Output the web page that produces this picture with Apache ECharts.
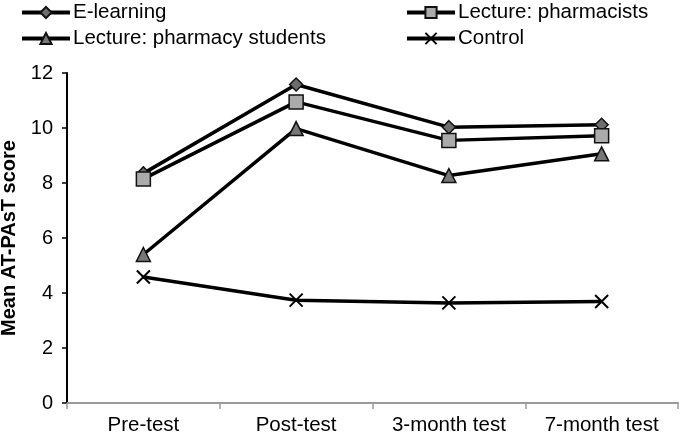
<!DOCTYPE html>
<html><head><meta charset="utf-8">
<script src="https://cdn.jsdelivr.net/npm/echarts@6/dist/echarts.min.js"></script>
<style>html,body{margin:0;padding:0;background:#fff}#c{width:680px;height:438px}</style>
</head><body><div id="c"></div>
<script>
const categories = ['Pre-test', 'Post-test', '3-month test', '7-month test'];
const eLearning = [8.35, 11.58, 10.03, 10.12];
const lecturePharmacists = [8.15, 10.95, 9.55, 9.72];
const lectureStudents = [5.4, 9.98, 8.27, 9.06];
const control = [4.58, 3.74, 3.64, 3.69];
const yTicks = [0, 2, 4, 6, 8, 10, 12];
const seriesNames = ['E-learning', 'Lecture: pharmacists', 'Lecture: pharmacy students', 'Control'];

const font = 'Liberation Sans, Arial, sans-serif';
const xPath = 'path://M0,0 L10,10 M10,0 L0,10';

function mk(name, data, symbol, size, fill, extra) {
  return Object.assign({
    name: name, type: 'line', data: data, symbol: symbol, symbolSize: size,
    lineStyle: { color: '#000', width: 3.5 },
    itemStyle: { color: fill, borderColor: '#111', borderWidth: 1.5 },
    emphasis: { disabled: true }, z: 3
  }, extra || {});
}

const legendBase = {
  itemWidth: 48, itemHeight: 14, itemGap: 4,
  lineStyle: { width: 4, color: '#000' },
  textStyle: { fontFamily: font, fontSize: 20.5, color: '#000', padding: [0, 0, 0, -2] },
  padding: 0, selectedMode: false
};

const chart = echarts.init(document.getElementById('c'), null, { renderer: 'canvas' });
chart.setOption({
  animation: false,
  backgroundColor: '#fff',
  grid: { left: 67, right: 2, top: 73, bottom: 35, containLabel: false, outerBoundsMode: 'none' },
  legend: [
    Object.assign({}, legendBase, { data: [seriesNames[0]], left: 20, top: 2 }),
    Object.assign({}, legendBase, { data: [seriesNames[1]], left: 405, top: 2 }),
    Object.assign({}, legendBase, { data: [seriesNames[2]], left: 20, top: 28 }),
    Object.assign({}, legendBase, { data: [seriesNames[3]], left: 405, top: 28 })
  ],
  xAxis: {
    type: 'category', data: categories, boundaryGap: true,
    axisLine: { lineStyle: { color: '#9a9a9a', width: 2 } },
    axisTick: { show: true, length: 6, lineStyle: { color: '#9a9a9a', width: 1.5 } },
    axisLabel: { fontFamily: font, fontSize: 20.5, color: '#000', margin: 12 }
  },
  yAxis: {
    type: 'value', min: 0, max: 12, interval: 2,
    name: 'Mean AT-PAsT score', nameLocation: 'middle', nameGap: 48,
    nameTextStyle: { fontFamily: font, fontSize: 20, fontWeight: 'bold', color: '#000' },
    axisLine: { show: true, lineStyle: { color: '#000', width: 2 } },
    axisTick: { show: true, length: 5, lineStyle: { color: '#000', width: 1.5 } },
    axisLabel: { fontFamily: font, fontSize: 20, color: '#000', margin: 14,
      formatter: v => yTicks.includes(v) ? String(v) : '' },
    splitLine: { show: false }
  },
  series: [
    mk(seriesNames[0], eLearning, 'diamond', 13, '#6e6e6e'),
    mk(seriesNames[1], lecturePharmacists, 'rect', 14, '#ababab'),
    mk(seriesNames[2], lectureStudents, 'triangle', 14, '#777777'),
    mk(seriesNames[3], control, xPath, 13, 'none', {
      itemStyle: { color: 'none', borderColor: '#000', borderWidth: 2 }
    })
  ]
});
</script></body></html>
